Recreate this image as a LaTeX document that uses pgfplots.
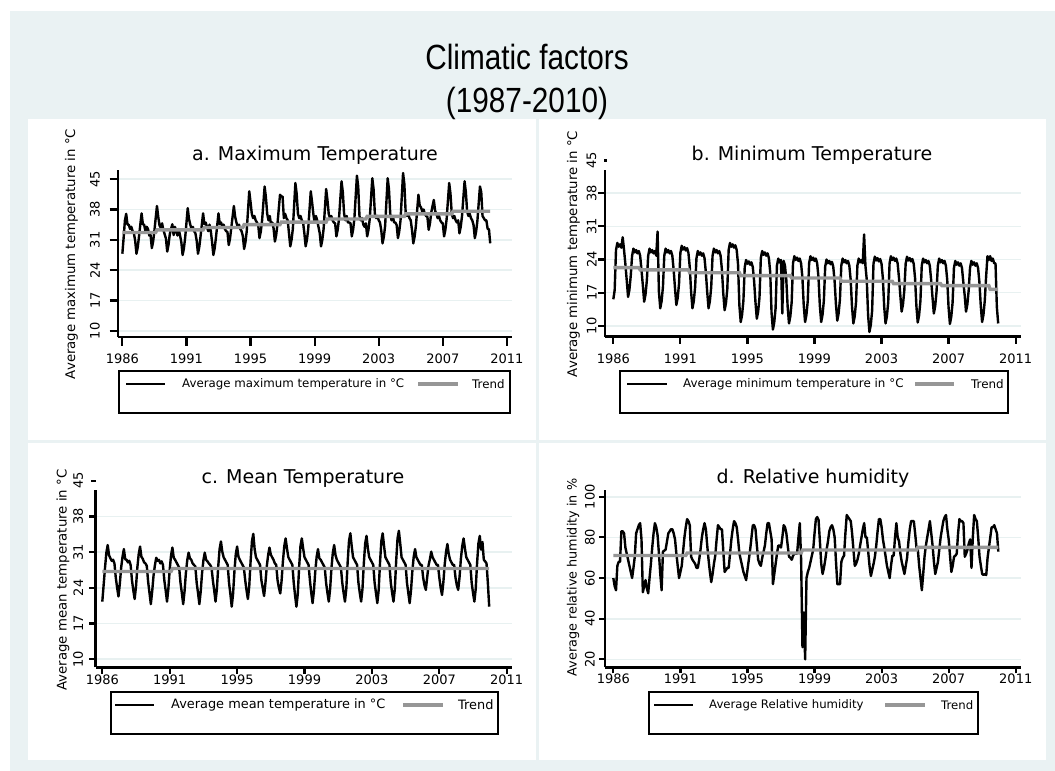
\documentclass[border=0pt]{standalone}
\usepackage{pgfplots}
\pgfplotsset{compat=1.18}
\usepackage{pgfplotstable}
\usepackage{fontspec}
\setmainfont{DejaVu Sans}
\newfontfamily\titlefont[FakeStretch=0.85]{Liberation Sans}
\definecolor{bg}{RGB}{234,242,243}
\definecolor{gridc}{RGB}{232,241,241}
\definecolor{trendc}{RGB}{150,150,150}
\newcommand\fs[1]{\fontsize{#1bp}{#1bp}\selectfont}

% Panel a: average maximum temperature, monthly from 1986 (one year per line)
\pgfplotstableread[header=false,row sep=\\]{
27.8\\31.5\\35.5\\37\\34.5\\34.5\\33.5\\34\\33\\32.5\\30.8\\27.8\\
29.3\\31.8\\34.5\\37.1\\34.6\\34.5\\33\\34\\33.5\\32\\32.1\\29.1\\
30.6\\33.1\\36\\38.8\\36.3\\34.3\\33.8\\34.8\\33.3\\32.3\\31.3\\28.3\\
29.8\\32.3\\33.5\\34.6\\32.1\\34\\33\\32\\33.5\\32\\30.5\\27.5\\
29\\31.5\\34.9\\38.3\\35.8\\34.5\\33.5\\34\\33\\32.5\\30.8\\27.8\\
29.3\\31.8\\34.5\\37.1\\34.6\\35\\34\\33\\34.5\\33\\30.5\\27.5\\
29\\31.5\\34.3\\37.1\\34.6\\35\\34\\34.5\\33.5\\33\\32.8\\29.8\\
31.3\\33.8\\36.3\\38.8\\36.3\\35\\34\\34.5\\33.5\\33\\31.9\\28.9\\
30.4\\32.9\\37.6\\42.2\\39.7\\37\\36\\36.5\\35.5\\35\\34.4\\31.4\\
32.9\\35.4\\39.4\\43.3\\40.8\\37\\35.5\\36.5\\34.5\\35\\33.6\\30.6\\
32.1\\34.6\\38\\41.4\\41\\41\\36\\37\\36\\35.5\\32.5\\29.5\\
31\\33.5\\38.8\\44.1\\41.6\\37\\36\\36.5\\35.5\\35\\32.5\\29.5\\
31\\33.5\\37.9\\42.2\\39.7\\37\\35\\36.5\\35.5\\34\\32.5\\29.5\\
31\\33.5\\38.1\\42.7\\40.2\\37\\36\\36.5\\35.5\\35\\34.8\\31.8\\
33.3\\35.8\\40.2\\44.5\\42\\37\\35.5\\36.5\\35\\35\\34.8\\31.8\\
33.3\\35.8\\40.8\\45.8\\43.3\\36.5\\35.5\\36\\34.5\\34\\34.8\\31.8\\
33.3\\35.8\\40.5\\45.2\\42.7\\37\\36\\36.5\\35.5\\35\\33.2\\30.2\\
31.7\\34.2\\39.7\\45.2\\42.7\\37\\35.5\\36.5\\35\\35\\34.4\\31.4\\
32.9\\35.4\\40.9\\46.4\\43.9\\37.5\\36.5\\37\\36\\35.5\\33.2\\30.2\\
31.7\\34.2\\37.8\\41.4\\38.9\\38.5\\37.5\\38\\37\\36.5\\36.3\\33.3\\
34.8\\37.3\\38.8\\40.2\\37.7\\37\\36\\36.5\\35.5\\35\\34.8\\31.8\\
33.3\\35.8\\40\\44.1\\41.6\\37\\36\\36.5\\35.5\\35\\35.5\\32.5\\
34\\36.5\\40.5\\44.5\\42\\37.5\\36.5\\37\\36\\35.5\\34.4\\31.4\\
32.9\\35.4\\39.4\\43.3\\42\\36.5\\36\\35.5\\35.5\\33.5\\33.5\\30.2\\
}\tmax

% Panel b: average minimum temperature
\pgfplotstableread[header=false,row sep=\\]{
15.6\\17.5\\26\\27.5\\26.7\\27.2\\26.5\\28.7\\26\\23\\19.6\\16.1\\
17.6\\20.6\\24.8\\26.3\\25.5\\26\\25.3\\25.8\\24.8\\21.8\\18.6\\15.1\\
16.6\\19.6\\24.8\\26.3\\25.5\\26\\25.3\\25.8\\24.8\\29.9\\17.2\\13.7\\
15.2\\18.2\\24.8\\26.3\\25.5\\26\\25.3\\25.8\\24.8\\21.8\\17.9\\14.4\\
15.9\\18.9\\25.4\\26.9\\26.1\\26.6\\25.9\\26.4\\25.4\\22.4\\17.2\\13.7\\
15.2\\18.2\\24.3\\25.8\\25\\25.5\\24.8\\25.3\\24.3\\21.3\\17.2\\13.7\\
15.2\\18.2\\24.8\\26.3\\25.5\\26\\25.3\\25.8\\24.8\\21.8\\16.8\\13.3\\
14.8\\17.8\\26\\27.5\\26.7\\27.2\\26.5\\27\\26\\23\\14.3\\10.8\\
12.3\\15.3\\22.4\\23.9\\23.1\\23.6\\22.9\\23.4\\22.4\\19.4\\15\\11.5\\
13\\16\\24.3\\25.8\\25\\25.5\\24.8\\25.3\\24.3\\21.3\\12.7\\9.2\\
10.7\\13.7\\22.7\\24.2\\23.4\\23.9\\12.6\\23.7\\22.7\\19.7\\14\\10.5\\
12\\15\\23.2\\24.7\\23.9\\24.4\\23.7\\24.2\\23.2\\20.2\\14.3\\10.8\\
12.3\\15.3\\23.2\\24.7\\23.9\\24.4\\23.7\\24.2\\23.2\\20.2\\14.3\\10.8\\
12.3\\15.3\\22.5\\24\\23.2\\23.7\\23\\23.5\\22.5\\19.5\\14.6\\11.1\\
12.6\\15.6\\22.7\\24.2\\23.4\\23.9\\23.2\\23.7\\22.7\\19.7\\14\\10.5\\
12\\15\\22.7\\24.2\\23.4\\23.9\\23.2\\29.3\\22.7\\19.7\\12.2\\8.7\\
10.2\\13.2\\23.1\\24.6\\23.8\\24.3\\23.6\\24.1\\23.1\\20.1\\14\\10.5\\
12\\15\\23.2\\24.7\\23.9\\24.4\\23.7\\24.2\\23.2\\20.2\\16.5\\13\\
14.5\\17.5\\23.1\\24.6\\23.8\\24.3\\23.6\\24.1\\23.1\\20.1\\14.2\\10.7\\
12.2\\15.2\\22.7\\24.2\\23.4\\23.9\\23.2\\23.7\\22.7\\19.7\\16.1\\12.6\\
14.1\\17.1\\22.7\\24.2\\23.4\\23.9\\23.2\\23.7\\22.7\\19.7\\13.9\\10.4\\
11.9\\14.9\\22.2\\23.7\\22.9\\23.4\\22.7\\23.2\\22.2\\19.2\\16.5\\13\\
14.5\\17.5\\22.2\\23.7\\22.9\\23.4\\22.7\\23.2\\22.2\\19.2\\14.3\\10.8\\
12.3\\15.3\\20.4\\24.7\\23.9\\24.7\\23.7\\24.2\\23.2\\23.2\\14\\10.5\\
}\tmin

% Panel c: average mean temperature
\pgfplotstableread[header=false,row sep=\\]{
21.3\\24.6\\27.9\\30.9\\32.4\\30.4\\29.8\\29.3\\29.5\\28.8\\26\\24\\
22.3\\24.8\\28\\30.1\\31.6\\29.6\\29.5\\29\\29.3\\28.5\\25.5\\23.5\\
21.8\\24.3\\28\\30.6\\32.1\\30.1\\29.7\\29\\28.8\\28.3\\25.2\\23\\
20.8\\23.3\\26.4\\28.4\\29.9\\29.3\\29.5\\28.8\\29.2\\28.5\\25.5\\23.5\\
21.3\\23.8\\27.6\\30.4\\31.9\\29.9\\29.5\\29\\28.5\\28\\25\\23\\
20.8\\23.3\\26.9\\29.4\\30.9\\29.8\\29.5\\28.8\\28.5\\28.2\\25\\23\\
20.8\\23.3\\26.9\\29.4\\30.9\\29.5\\29.2\\28.8\\28.5\\28\\25.5\\23.5\\
21.3\\23.8\\28.2\\31.6\\33.1\\31.1\\30\\29.5\\29\\28.5\\25\\22.8\\
20.3\\22.8\\27.2\\30.6\\32.1\\30.1\\29.5\\29\\28.5\\28\\25.5\\23.5\\
21.8\\24.3\\29.2\\33.1\\34.6\\31.6\\30\\29.5\\29\\28.5\\25.5\\24\\
22.4\\24.9\\28.2\\30.4\\31.9\\30.5\\30\\29.5\\28.8\\28.5\\25.5\\24\\
22.9\\25.4\\29.3\\32.2\\33.7\\31.7\\30\\29.5\\29\\28.5\\25\\22.5\\
20.3\\22.8\\28\\32.2\\33.7\\31.7\\30\\29.5\\29\\28.5\\25.5\\23\\
21\\23.5\\27.3\\30.1\\31.6\\29.8\\29.5\\29\\28.5\\28\\25\\23\\
21.3\\23.8\\27.9\\30.9\\32.4\\30.4\\29.5\\29\\28.5\\28\\25\\23\\
21.3\\23.8\\29\\33.2\\34.7\\32.2\\30\\29.5\\29\\28.5\\25\\23\\
21.3\\23.8\\28.8\\32.7\\34.2\\31.7\\30\\29.5\\29\\28.5\\25\\23\\
21\\23.5\\28.9\\33.2\\34.7\\32.2\\30\\29.5\\29\\28.5\\25\\23\\
21.3\\23.8\\29.3\\33.7\\35.2\\32.7\\30\\29.5\\29\\28.5\\25\\23\\
21\\23.5\\27.3\\30.1\\31.6\\30\\29.5\\29\\28.5\\28.5\\26\\24.5\\
23.6\\26.1\\28.4\\29.6\\31.1\\30\\29.5\\29\\28.5\\28.5\\26\\24\\
22.6\\25.1\\28.6\\31.1\\32.6\\30.6\\29.5\\29\\28.5\\28.5\\26\\24.5\\
23.6\\26.1\\29.7\\32.2\\33.7\\31.7\\30\\29.5\\29\\28.5\\25\\23\\
21.3\\23.8\\28.8\\32.7\\34.2\\31.5\\33\\29.5\\29.2\\28.8\\25\\20.3\\
}\tmean

% Panel d: average relative humidity
\pgfplotstableread[header=false,row sep=\\]{
60\\56\\54\\66\\68\\68\\83\\83\\82\\75\\72\\69\\
66\\63\\60\\65\\70.5\\82\\84\\86\\87\\79\\53\\56\\
59\\55\\52.5\\60\\67\\75\\82\\87\\85\\81\\72\\62\\
54\\73\\73.5\\74\\78\\82\\83\\84\\84\\82\\79\\72\\
66\\60\\63\\66\\73\\80\\85\\89\\88\\86\\70.5\\69\\
68\\67\\65\\65\\69\\74\\80\\84\\87\\84\\76\\69\\
63\\58\\62\\67\\71\\79\\86\\85\\84\\84\\73\\63\\
64\\65\\65\\72\\79\\84\\88\\87\\85\\79\\72\\69\\
66\\63\\61\\59\\64\\69\\74\\80\\86\\86\\84\\76\\
69\\67\\66\\70\\73\\76\\82\\87\\87\\83\\79\\57\\
62\\67\\72\\76\\76\\75\\80\\86\\85\\82\\76\\70.5\\
70\\69\\71\\72\\72\\72\\80\\87\\69\\26\\43\\20\\
60\\63\\65\\68\\71\\74\\82\\89\\90\\88.5\\78\\67\\
62\\65\\69\\74\\78\\83\\85\\86\\84\\80\\68\\57\\
57\\57\\68\\70\\71\\82\\91\\90\\89\\88\\82\\74\\
66\\67\\69\\72\\76\\80\\84\\87\\80\\80\\73\\66\\
61\\64\\67\\70.5\\76\\83\\89\\89\\85\\79\\75\\70.5\\
66\\63\\60\\66\\71\\71\\80\\87\\80\\78\\72\\68\\
65\\62\\66\\70\\78\\84\\88\\88\\88\\82\\75\\74\\
66\\60\\54\\62\\70.5\\76\\80\\84\\88\\82\\76\\68\\
62\\65\\68\\74\\80\\84\\88\\90\\91\\84\\79\\71\\
63\\66\\70.5\\71\\72\\82\\89\\88\\88\\87\\70.5\\72\\
74\\77\\79\\65\\80\\91\\89\\88\\80\\70.5\\66\\62\\
61.5\\62\\61.5\\70\\75\\80\\85\\85\\86\\84\\82\\73\\
}\thum

\pgfplotsset{
  stata/.style={
    scale only axis, anchor=south west,
    axis lines*=left,
    axis line style={black, line width=2.6bp},
    tick align=outside,
    tick style={black, line width=2.2bp},
    ymajorgrids,
    grid style={gridc, line width=1.6bp},
    xtick={0,50,100,150,200,250,300},
    xticklabels={1986,1991,1995,1999,2003,2007,2011},
    ticklabel style={font=\fs{13}, inner sep=0pt},
    xticklabel style={anchor=north},
    clip=false,
  },
  series/.style={black, line width=2.4bp, line join=round, no marks},
  trend/.style={trendc, line width=3.4bp, no marks},
}

\begin{document}
\begin{tikzpicture}
\begin{scope}[x=1bp,y=-1bp]
\path[use as bounding box] (0,0) rectangle (1055,771);
\fill[bg] (10,11) rectangle (1055,771);
\fill[white] (28,119) rectangle (536,440);
\fill[white] (539,119) rectangle (1046,440);
\fill[white] (28,443) rectangle (536,760);
\fill[white] (539,443) rectangle (1046,760);
\node[anchor=base, font=\titlefont\fs{35}] at (527,70) {Climatic factors};
\node[anchor=base, font=\titlefont\fs{35}] at (527,112) {(1987-2010)};
\end{scope}

% ---------- a ----------
\begin{axis}[stata, at={(118bp,-337bp)}, width=394bp, height=167bp,
  xmin=-3.4, xmax=304, ymin=8.6, ymax=47.1,
  ytick={10,17,24,31,38,45}, yticklabels={10,17,24,31,38,45},
  major tick length=8.5bp,
  yticklabel style={xshift=-9.5bp, rotate=90, anchor=south},
  xticklabel style={yshift=-8.5bp}]
\addplot[series] table[x expr=\coordindex, y index=0] {\tmax};
\addplot[trend] coordinates {(0,32.7) (26,32.7) (27,33.3) (63,33.3) (64,33.85) (94,33.85) (95,34.5) (123,34.5) (124,35.1) (159,35.1) (160,35.8) (190,35.8) (191,36.4) (220,36.4) (221,37.0) (257,37.0) (258,37.6) (287,37.6)};
\end{axis}

% ---------- b ----------
\begin{axis}[stata, at={(605bp,-336.7bp)}, width=415.7bp, height=166.7bp,
  xmin=-6.2, xmax=303.8, ymin=7.7, ymax=42.9,
  ytick={10,17,24,31,38}, yticklabels={10,17,24,31,38},
  major tick length=7bp,
  yticklabel style={xshift=-1.3bp, rotate=90, anchor=south},
  xticklabel style={yshift=-10.3bp}]
\addplot[series] table[x expr=\coordindex, y index=0] {\tmin};
\addplot[trend] coordinates {(0,22.3) (19,22.3) (20,21.8) (56,21.8) (57,21.2) (94,21.2) (95,20.6) (132,20.6) (133,20.1) (169,20.1) (170,19.4) (208,19.4) (209,18.9) (244,18.9) (245,18.5) (280,18.5) (281,17.7) (287,17.7)};
\end{axis}

% ---------- c ----------
\begin{axis}[stata, at={(95.7bp,-667.3bp)}, width=416bp, height=177.3bp,
  xmin=-4.9, xmax=303.7, ymin=8.4, ymax=43.2,
  ytick={10,17,24,31,38}, yticklabels={10,17,24,31,38},
  major tick length=6.5bp,
  yticklabel style={xshift=-5.9bp, rotate=90, anchor=south},
  xticklabel style={yshift=-0.5bp}]
\addplot[series] table[x expr=\coordindex, y index=0] {\tmean};
\addplot[trend] coordinates {(0,27.2) (51,27.2) (52,27.8) (287,27.8)};
\end{axis}

% ---------- d ----------
\begin{axis}[stata, at={(605bp,-667.3bp)}, width=415.7bp, height=177.3bp,
  xmin=-6.2, xmax=303.7, ymin=16.1, ymax=103.3,
  ytick={20,40,60,80,100}, yticklabels={20,40,60,80,100},
  major tick length=6bp,
  yticklabel style={xshift=-4bp, rotate=90, anchor=south},
  xticklabel style={yshift=0bp}]
\addplot[series] table[x expr=\coordindex, y index=0] {\thum};
\addplot[trend] coordinates {(0,71.1) (54,71.1) (55,72.3) (140,72.3) (141,73.8) (226,73.8) (227,75.1) (287,75.1)};
\end{axis}

\begin{scope}[x=1bp,y=-1bp]
% extra 45 ticks above the plot regions of b and c
\fill[black] (603.5,161.5) rectangle (606.5,158.5);
\node[rotate=90, anchor=south, inner sep=0pt, font=\fs{13}] at (596.5,160) {45};
\fill[black] (90.5,481.7) rectangle (95.7,479.7);
\node[rotate=90, anchor=south, inner sep=0pt, font=\fs{13}] at (83.3,480.7) {45};

% panel titles
\node[anchor=base, font=\fs{19}] at (315,160.7) {a. Maximum Temperature};
\node[anchor=base, font=\fs{19}] at (812,160.7) {b. Minimum Temperature};
\node[anchor=base, font=\fs{19}] at (303,483) {c. Mean Temperature};
\node[anchor=base, font=\fs{19}] at (813,483) {d. Relative humidity};

% y axis titles
\node[rotate=90, anchor=base, font=\fs{13.3}] at (75,254) {Average maximum temperature in °C};
\node[rotate=90, anchor=base, font=\fs{13.3}] at (577,254) {Average minimum temperature in °C};
\node[rotate=90, anchor=base, font=\fs{13.3}] at (66.7,580) {Average mean temperature in °C};
\node[rotate=90, anchor=base, font=\fs{12.8}] at (576.7,577.5) {Average relative humidity in \%};

% legends
\draw[line width=2.2bp] (119,371) rectangle (510,413);
\draw[black, line width=2.4bp] (126,384) -- (165,384);
\node[anchor=west, inner sep=0pt, font=\fs{11.8}] at (182,384) {Average maximum temperature in °C};
\draw[trendc, line width=3.4bp] (418,384) -- (458,384);
\node[anchor=west, inner sep=0pt, font=\fs{11.8}] at (472,384) {Trend};

\draw[line width=2.2bp] (620,371) rectangle (1008,413);
\draw[black, line width=2.4bp] (627,384) -- (667,384);
\node[anchor=west, inner sep=0pt, font=\fs{11.9}] at (683,384) {Average minimum temperature in °C};
\draw[trendc, line width=3.4bp] (915,384) -- (954,384);
\node[anchor=west, inner sep=0pt, font=\fs{11.9}] at (971,384) {Trend};

\draw[line width=2.2bp] (111,692) rectangle (498,734);
\draw[black, line width=2.4bp] (115,705) -- (154,705);
\node[anchor=west, inner sep=0pt, font=\fs{12.9}] at (171,705) {Average mean temperature in °C};
\draw[trendc, line width=3.4bp] (403,705) -- (443,705);
\node[anchor=west, inner sep=0pt, font=\fs{12.9}] at (458,705) {Trend};

\draw[line width=2.2bp] (649,692) rectangle (978,734);
\draw[black, line width=2.4bp] (654,705) -- (693,705);
\node[anchor=west, inner sep=0pt, font=\fs{11.7}] at (709,705) {Average Relative humidity};
\draw[trendc, line width=3.4bp] (885,705) -- (925,705);
\node[anchor=west, inner sep=0pt, font=\fs{11.7}] at (941,705) {Trend};
\end{scope}
\end{tikzpicture}
\end{document}
